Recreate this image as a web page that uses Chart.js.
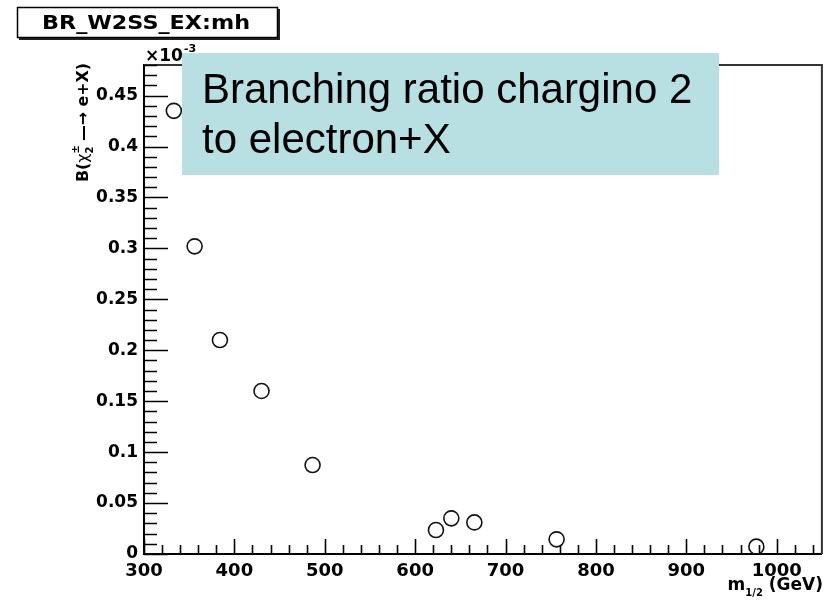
<!DOCTYPE html>
<html>
<head>
<meta charset="utf-8">
<script src="https://cdn.jsdelivr.net/npm/chart.js@4.4.1/dist/chart.umd.min.js"></script>
<style>
  html, body { margin: 0; padding: 0; background: #fff; }
  canvas { display: block; }
</style>
</head>
<body>
<canvas id="c" width="831" height="606"></canvas>
<script>
// m_1/2 (GeV) for each model point
const m12 = [333, 356, 384, 430, 486.5, 623, 640, 665.5, 756.5, 977.5];
// B(chargino2 -> e+X), in units of 1e-3
const branching = [0.435, 0.302, 0.21, 0.16, 0.0873, 0.0235, 0.035, 0.031, 0.0144, 0.0072];

const xTicks = [300, 400, 500, 600, 700, 800, 900, 1000];
const yTicks = [0, 0.05, 0.1, 0.15, 0.2, 0.25, 0.3, 0.35, 0.4, 0.45];

const histName = 'BR_W2SS_EX:mh';
const noteLines = ['Branching ratio chargino 2', 'to electron+X'];

const BOLD = '"DejaVu Sans", sans-serif';

// ROOT-style frame: inward tick marks, top/right frame, title box and text overlay
const rootFrame = {
  id: 'rootFrame',
  afterDraw(chart) {
    const ctx = chart.ctx;
    const a = chart.chartArea;
    const xs = chart.scales.x, ys = chart.scales.y;
    ctx.save();

    // top and right frame lines
    ctx.strokeStyle = '#333';
    ctx.lineWidth = 2;
    ctx.beginPath();
    ctx.moveTo(a.left, a.top); ctx.lineTo(a.right, a.top); ctx.lineTo(a.right, a.bottom);
    ctx.stroke();

    // tick marks pointing into the frame
    ctx.strokeStyle = '#000';
    ctx.lineWidth = 1.6;
    ctx.beginPath();
    for (let i = 0; i <= 48; i++) {
      const v = i / 100;
      const y = Math.round(ys.getPixelForValue(v)) + 0.5;
      const len = (i % 5 === 0) ? 24 : 13;
      ctx.moveTo(a.left, y); ctx.lineTo(a.left + len, y);
    }
    for (let v = 300; v <= 1050; v += 20) {
      const x = Math.round(xs.getPixelForValue(v)) + 0.5;
      const len = (v % 100 === 0) ? 15 : 9;
      ctx.moveTo(x, a.bottom); ctx.lineTo(x, a.bottom - len);
    }
    ctx.stroke();

    // exponent label on the y axis
    ctx.fillStyle = '#000';
    ctx.textBaseline = 'alphabetic';
    ctx.textAlign = 'left';
    ctx.font = 'bold 17px ' + BOLD;
    ctx.fillText('\u00d710', a.left + 1, 61);
    const w10 = ctx.measureText('\u00d710').width;
    ctx.font = 'bold 11px ' + BOLD;
    ctx.fillText('-3', a.left + 1 + w10 + 1, 52);

    // y axis title, rotated, aligned to the top end of the axis
    ctx.save();
    ctx.translate(88, 182);
    ctx.rotate(-Math.PI / 2);
    const parts = [
      ['B(', 'bold 16px ' + BOLD, 0, true],
      ['\u03c7', '16px ' + BOLD, 0, true],
      ['\u00b1', 'bold 10px ' + BOLD, -9, false],
      ['2', 'bold 10px ' + BOLD, 5, true],
      [' \u2014\u2192 ', 'bold 16px ' + BOLD, 0, true],
      ['e+X)', 'bold 16px ' + BOLD, 0, true]
    ];
    let total = 0;
    parts.forEach(p => { ctx.font = p[1]; if (p[3]) total += ctx.measureText(p[0]).width; });
    ctx.scale(119 / total, 1);
    let x = 0;
    parts.forEach(p => {
      ctx.font = p[1];
      ctx.fillText(p[0], x, p[2]);
      if (p[3]) x += ctx.measureText(p[0]).width;
    });
    ctx.restore();

    // x axis title, right aligned under the axis
    ctx.save();
    const fBig = 'bold 17px ' + BOLD, fSub = 'bold 10px ' + BOLD;
    ctx.font = fBig;
    const wm = ctx.measureText('m').width;
    const wg = ctx.measureText(' (GeV)').width;
    ctx.font = fSub;
    const ws = ctx.measureText('1/2').width;
    let tx = 823 - (wm + ws + wg);
    ctx.font = fBig; ctx.fillText('m', tx, 590); tx += wm;
    ctx.font = fSub; ctx.fillText('1/2', tx, 596); tx += ws;
    ctx.font = fBig; ctx.fillText(' (GeV)', tx, 590);
    ctx.restore();

    // histogram name box
    ctx.fillStyle = '#fff';
    ctx.fillRect(17, 7, 261, 30);
    ctx.fillStyle = '#222';
    ctx.fillRect(19, 37, 260, 3);
    ctx.fillRect(278, 9, 2, 31);
    ctx.strokeStyle = '#000';
    ctx.lineWidth = 1.5;
    ctx.strokeRect(17.5, 7.5, 260, 30);
    ctx.fillStyle = '#000';
    ctx.font = 'bold 19px ' + BOLD;
    const hw = ctx.measureText(histName).width;
    ctx.save();
    ctx.translate(42, 29);
    ctx.scale(208 / hw, 1);
    ctx.fillText(histName, 0, 0);
    ctx.restore();

    // annotation box
    ctx.fillStyle = '#b8dfe2';
    ctx.fillRect(182, 53, 537, 122);
    ctx.fillStyle = '#000';
    ctx.font = '42px "Liberation Sans", Arial, sans-serif';
    ctx.fillText(noteLines[0], 202, 103);
    ctx.fillText(noteLines[1], 202, 153);

    ctx.restore();
  }
};

new Chart(document.getElementById('c'), {
  type: 'scatter',
  data: {
    datasets: [{
      data: m12.map((v, i) => ({ x: v, y: branching[i] })),
      pointStyle: 'circle',
      pointRadius: 7.5,
      pointBorderWidth: 1.6,
      borderColor: '#111',
      backgroundColor: 'rgba(255,255,255,0)'
    }]
  },
  options: {
    responsive: false,
    animation: false,
    devicePixelRatio: 1,
    layout: { padding: { left: 0, right: 6, top: 65, bottom: 0 } },
    plugins: { legend: { display: false }, tooltip: { enabled: false } },
    scales: {
      x: {
        type: 'linear',
        min: 300, max: 1050,
        afterFit(s) { s.height = 52; },
        afterBuildTicks(s) { s.ticks = xTicks.map(v => ({ value: v })); },
        grid: { display: false, drawTicks: false },
        border: { display: true, color: '#000', width: 2 },
        ticks: {
          includeBounds: false,
          padding: 7,
          color: '#000',
          maxRotation: 0,
          autoSkip: false,
          font: { family: BOLD, weight: 'bold', size: 18 },
          callback: v => String(v)
        }
      },
      y: {
        type: 'linear',
        min: 0, max: 0.48,
        afterFit(s) { s.width = 144; },
        afterBuildTicks(s) { s.ticks = yTicks.map(v => ({ value: v })); },
        grid: { display: false, drawTicks: false },
        border: { display: true, color: '#000', width: 2 },
        ticks: {
          includeBounds: false,
          padding: 6,
          color: '#000',
          autoSkip: false,
          font: { family: BOLD, weight: 'bold', size: 17 },
          callback: v => String(parseFloat(v.toFixed(3)))
        }
      }
    }
  },
  plugins: [rootFrame]
});
</script>
</body>
</html>
